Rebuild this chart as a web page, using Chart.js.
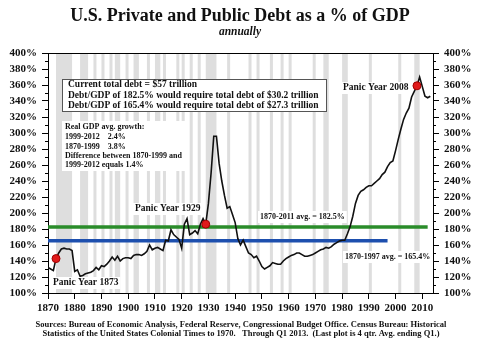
<!DOCTYPE html>
<html>
<head>
<meta charset="utf-8">
<script src="https://cdn.jsdelivr.net/npm/chart.js@4/dist/chart.umd.min.js"></script>
<style>
  body { margin: 0; background: #fff; }
  #wrap { width: 480px; height: 342px; }
</style>
</head>
<body>
<div id="wrap"><canvas id="debtChart" width="480" height="342"></canvas></div>
<script>
// Years and debt as % of GDP
var years = [1870,1871,1872,1873,1874,1875,1876,1877,1878,1879,
  1880,1881,1882,1883,1884,1885,1886,1887,1888,1889,
  1890,1891,1892,1893,1894,1895,1896,1897,1898,1899,
  1900,1901,1902,1903,1904,1905,1906,1907,1908,1909,
  1910,1911,1912,1913,1914,1915,1916,1917,1918,1919,
  1920,1921,1922,1923,1924,1925,1926,1927,1928,1929,
  1930,1931,1932,1933,1934,1935,1936,1937,1938,1939,
  1940,1941,1942,1943,1944,1945,1946,1947,1948,1949,
  1950,1951,1952,1953,1954,1955,1956,1957,1958,1959,
  1960,1961,1962,1963,1964,1965,1966,1967,1968,1969,
  1970,1971,1972,1973,1974,1975,1976,1977,1978,1979,
  1980,1981,1982,1983,1984,1985,1986,1987,1988,1989,
  1990,1991,1992,1993,1994,1995,1996,1997,1998,1999,
  2000,2001,2002,2003,2004,2005,2006,2007,2008,2009,
  2010,2011,2012,2013];
var debtPct = [132,130,128,143,150,155,156,155,155,153,
  127,129,121,122,124,125,126,128,132,129,
  134,133,136,140,145,141,146,140,143,144,
  144,143,147,148,148,147,149,152,160,154,
  156,157,155,153,166,165,179,173,170,167,
  156,186,193,173,175,178,174,186,193,186,
  212,250,296,296,262,240,222,206,208,198,
  188,168,160,166,158,150,148,144,146,140,
  133,130,132,134,138,137,136,136,140,143,
  145,147,148,150,150,148,146,146,147,148,
  150,152,154,155,157,156,158,161,163,165,
  166,166,174,183,196,212,222,227,229,232,
  234,234,237,240,243,248,251,258,263,265,
  278,292,305,317,325,331,345,352,359,370,
  358,346,344,346];

// Panic years (red dots)
var panicYears = [1873, 1929, 2008];
var panicPct = [143, 186, 359];

// Averages
var avgLongYears = [1870, 2012];
var avgLongPct = [182.5, 182.5];
var avgShortYears = [1870, 1997];
var avgShortPct = [165.4, 165.4];

// Recession shading (grey bands)
var recStart = [1873,1882,1887,1890,1893,1895,1899,1902,1907,1910,1913,1918,1920,1923,1926,1929,1937,1945,1948,1953,1957,1960,1969,1973,1980,1981,1990,2001,2007];
var recEnd   = [1879,1885,1888,1891,1894,1897,1900,1904,1908,1912,1914,1919,1921,1924,1927,1933,1938,1945.8,1949,1954,1958,1961,1970,1975,1980.6,1982,1991,2001.8,2009];

var yTicks = [100,120,140,160,180,200,220,240,260,280,300,320,340,360,380,400];
var yMinorTicks = [110,130,150,170,190,210,230,250,270,290,310,330,350,370,390];
var xTicks = [1870,1880,1890,1900,1910,1920,1930,1940,1950,1960,1970,1980,1990,2000,2010];

var serif = '"Liberation Serif", "Times New Roman", serif';

function pts(xs, ys) {
  var out = [];
  for (var i = 0; i < xs.length; i++) out.push({x: xs[i], y: ys[i]});
  return out;
}

// Grey bands behind the line
var bandsPlugin = {
  id: 'bands',
  beforeDatasetsDraw: function(chart) {
    var ctx = chart.ctx, a = chart.chartArea, x = chart.scales.x;
    ctx.save();
    ctx.fillStyle = '#dedede';
    for (var i = 0; i < recStart.length; i++) {
      var x0 = x.getPixelForValue(recStart[i]);
      var x1 = x.getPixelForValue(recEnd[i]);
      ctx.fillRect(x0, a.top, Math.max(x1 - x0, 3), a.bottom - a.top);
    }
    ctx.restore();
  }
};

function label(ctx, text, x, y, font, bg) {
  ctx.font = font;
  var w = ctx.measureText(text).width;
  if (bg) {
    ctx.fillStyle = '#fff';
    ctx.fillRect(x - 2, y - 6, w + 4, 12);
  }
  ctx.fillStyle = '#111';
  ctx.textBaseline = 'middle';
  ctx.textAlign = 'left';
  ctx.fillText(text, x, y);
}

// Titles, boxes, notes and footer
var notesPlugin = {
  id: 'notes',
  afterDatasetsDraw: function(chart) {
    var ctx = chart.ctx, a = chart.chartArea, y = chart.scales.y;
    ctx.save();
    // frame top
    ctx.strokeStyle = '#000';
    ctx.lineWidth = 1;
    ctx.beginPath();
    ctx.moveTo(a.left, a.top + 0.5);
    ctx.lineTo(a.right, a.top + 0.5);
    // minor ticks on both sides
    yMinorTicks.forEach(function(v) {
      var py = Math.round(y.getPixelForValue(v)) + 0.5;
      ctx.moveTo(a.left - 3, py);
      ctx.lineTo(a.left, py);
      ctx.moveTo(a.right, py);
      ctx.lineTo(a.right + 3, py);
    });
    ctx.stroke();

    // big box
    ctx.fillStyle = '#fff';
    ctx.fillRect(62, 79, 264, 32);
    ctx.strokeStyle = '#555';
    ctx.strokeRect(62.5, 79.5, 264, 32);
    var f1 = 'bold 9.5px ' + serif;
    label(ctx, 'Current total debt = $57 trillion', 68, 85, f1);
    label(ctx, 'Debt/GDP of 182.5% would require total debt of $30.2 trillion', 68, 95.5, f1);
    label(ctx, 'Debt/GDP of 165.4% would require total debt of $27.3 trillion', 68, 106, f1);

    // growth box
    ctx.fillStyle = '#fff';
    ctx.fillRect(62, 121, 126, 50);
    var f2 = 'bold 8px ' + serif;
    label(ctx, 'Real GDP avg. growth:', 65, 127, f2);
    label(ctx, '1999-2012    2.4%', 65, 137, f2);
    label(ctx, '1870-1999    3.8%', 65, 146.5, f2);
    label(ctx, 'Difference between 1870-1999 and', 65, 156, f2);
    label(ctx, '1999-2012 equals 1.4%', 65, 165, f2);

    var f3 = 'bold 9.5px ' + serif;
    label(ctx, 'Panic Year 1873', 53, 283, f3, true);
    label(ctx, 'Panic Year 1929', 135, 209, f3, true);
    label(ctx, 'Panic Year 2008', 343, 88, f3, true);

    var f4 = 'bold 8px ' + serif;
    label(ctx, '1870-2011 avg. = 182.5%', 260, 217, f4, true);
    label(ctx, '1870-1997 avg. = 165.4%', 345, 257, f4, true);

    // titles
    ctx.fillStyle = '#111';
    ctx.textAlign = 'center';
    ctx.textBaseline = 'alphabetic';
    ctx.font = 'bold 18px ' + serif;
    ctx.fillText('U.S. Private and Public Debt as a % of GDP', 240, 21);
    ctx.font = 'italic bold 11.5px ' + serif;
    ctx.fillText('annually', 240, 35);

    // footer
    ctx.textBaseline = 'middle';
    ctx.font = 'bold 8.5px ' + serif;
    ctx.fillText('Sources: Bureau of Economic Analysis, Federal Reserve, Congressional Budget Office. Census Bureau: Historical', 241, 325);
    ctx.fillText('Statistics of the United States Colonial Times to 1970.   Through Q1 2013.  (Last plot is 4 qtr. Avg. ending Q1.)', 241, 334);
    ctx.restore();
  }
};

function yAxis(pos, width) {
  return {
    position: pos,
    min: 100,
    max: 400,
    afterFit: function(s) { s.width = width; },
    afterBuildTicks: function(s) { s.ticks = yTicks.map(function(v) { return {value: v}; }); },
    ticks: {
      autoSkip: false,
      padding: 5,
      color: '#111',
      font: {family: serif, size: 11, weight: 'bold'},
      callback: function(v) { return v + '%'; }
    },
    grid: {drawOnChartArea: false, tickLength: 6, color: '#000'},
    border: {color: '#000', width: 1}
  };
}

new Chart(document.getElementById('debtChart'), {
  type: 'line',
  data: {
    datasets: [
      {
        label: 'Panic years',
        type: 'scatter',
        data: pts(panicYears, panicPct),
        backgroundColor: '#e01a1a',
        borderColor: '#a00000',
        borderWidth: 1,
        pointRadius: 4,
        order: 0
      },
      {
        label: 'Debt % of GDP',
        data: pts(years, debtPct),
        borderColor: '#111',
        borderWidth: 1.6,
        pointRadius: 0,
        tension: 0,
        order: 1
      },
      {
        label: '1870-2011 avg.',
        data: pts(avgLongYears, avgLongPct),
        borderColor: '#2a8c2a',
        borderWidth: 3.5,
        pointRadius: 0,
        order: 2
      },
      {
        label: '1870-1997 avg.',
        data: pts(avgShortYears, avgShortPct),
        borderColor: '#1d4fae',
        borderWidth: 3.5,
        pointRadius: 0,
        order: 2
      }
    ]
  },
  options: {
    responsive: false,
    animation: false,
    layout: {padding: {top: 53, left: 0, right: 0, bottom: 0}},
    plugins: {legend: {display: false}, tooltip: {enabled: false}},
    scales: {
      x: {
        type: 'linear',
        min: 1870,
        max: 2014,
        afterFit: function(s) { s.height = 49; },
        afterBuildTicks: function(s) { s.ticks = xTicks.map(function(v) { return {value: v}; }); },
        ticks: {
          autoSkip: false,
          padding: 3,
          maxRotation: 0,
          color: '#111',
          font: {family: serif, size: 11, weight: 'bold'},
          callback: function(v) { return String(v); }
        },
        grid: {drawOnChartArea: false, tickLength: 6, color: '#000'},
        border: {color: '#000', width: 1}
      },
      y: yAxis('left', 48),
      y2: yAxis('right', 47)
    }
  },
  plugins: [bandsPlugin, notesPlugin]
});
</script>
</body>
</html>
